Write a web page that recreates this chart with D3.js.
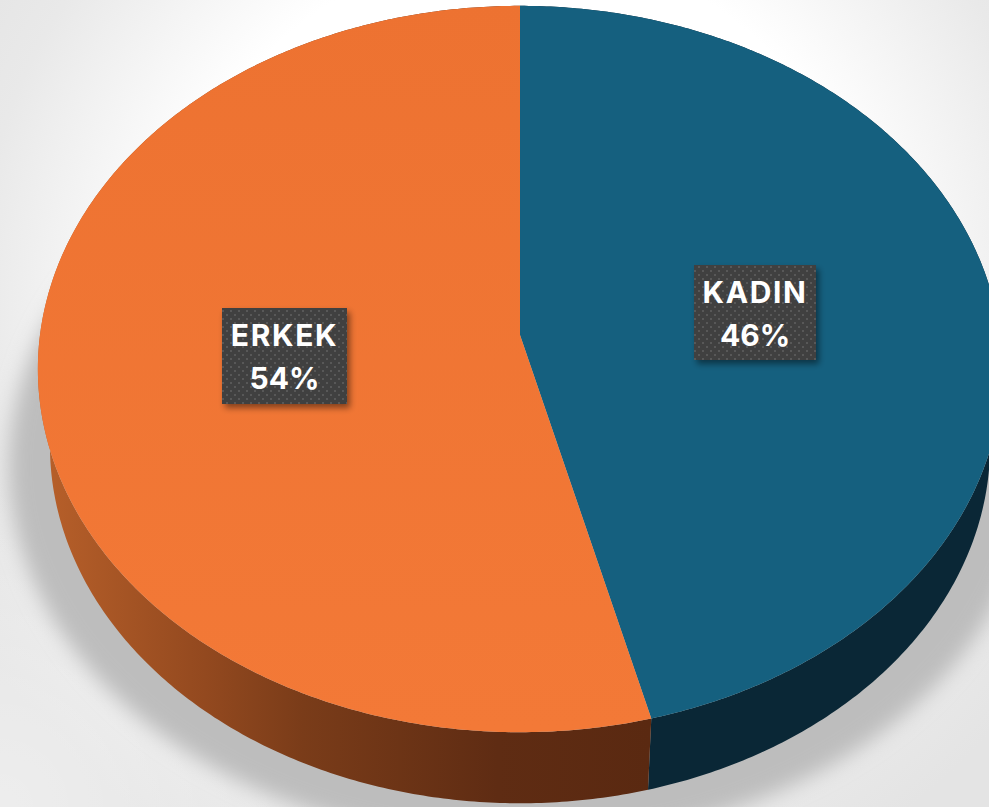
<!DOCTYPE html>
<html>
<head>
<meta charset="utf-8">
<script src="https://cdn.jsdelivr.net/npm/d3@7"></script>
<style>
  html, body { margin: 0; padding: 0; background: #f2f2f2; overflow: hidden; }
  svg { display: block; }
  text { font-family: Inter, "Liberation Sans", sans-serif; font-weight: 700; fill: #fff; }
</style>
</head>
<body>
<svg id="chart" width="989" height="807"></svg>
<script>
const categories = ['KADIN', 'ERKEK'];
const shares = [46, 54];

const svg = d3.select('#chart');
const defs = svg.append('defs');

const apexX = 520, apexY = 335, radiusX = 480, radiusY = 360, tilt = 0.0937;

// unit circle angle -> screen, tilted so the near edge looks bigger
function project(angle, shift, scaleX, scaleY) {
  const X = Math.sin(angle), Y = -Math.cos(angle), w = 1 - tilt * Y;
  return [apexX + scaleX * radiusX * X / w, apexY + shift + scaleY * radiusY * Y / w];
}

const arcs = d3.pie().value(d => d).sort(null)(shares);
const line = d3.line();
const steps = a => d3.range(a.startAngle, a.endAngle, 0.01).concat(a.endAngle);

function gradient(id, type, attrs, stops) {
  const g = defs.append(type).attr('id', id).attr('gradientUnits', 'userSpaceOnUse');
  Object.keys(attrs).forEach(k => g.attr(k, attrs[k]));
  stops.forEach(s => g.append('stop').attr('offset', s[0]).attr('stop-color', s[1]).attr('stop-opacity', s[2] === undefined ? 1 : s[2]));
}

// background
gradient('bg', 'radialGradient', {cx: 520, cy: 300, r: 640}, [[0.55, '#ffffff'], [0.85, '#e9e9e9'], [1, '#e4e4e4']]);
gradient('bgLeft', 'radialGradient', {cx: 0, cy: 807, r: 330}, [[0, '#ffffff', 0.35], [1, '#ffffff', 0]]);
svg.append('rect').attr('width', 989).attr('height', 807).attr('fill', 'url(#bg)');
svg.append('rect').attr('width', 989).attr('height', 807).attr('fill', 'url(#bgLeft)');

// soft shadow behind the pie
defs.append('filter').attr('id', 'soft').attr('x', '-20%').attr('y', '-20%').attr('width', '140%').attr('height', '140%')
  .append('feGaussianBlur').attr('stdDeviation', 10);
const shadowPts = d3.range(0, Math.PI * 2, 0.02).map(a => project(a, 95, 1.06, 1.04));
svg.append('path').attr('d', line(shadowPts) + 'Z').attr('fill', '#bdbdbd').attr('filter', 'url(#soft)');

// side wall
gradient('sideOrange', 'linearGradient', {x1: 40, x2: 650, y1: 0, y2: 0},
  [[0, '#b8602a'], [0.27, '#93491f'], [0.43, '#7a3c19'], [0.75, '#5f2c13'], [1, '#5a2911']]);
const sideFill = ['#0a2736', 'url(#sideOrange)'];

arcs.forEach((a, i) => {
  const top = steps(a).map(t => project(t, 0, 1, 1));
  const bottom = steps(a).map(t => project(t, 77, 0.975, 0.985)).reverse();
  svg.append('path').attr('d', line(top.concat(bottom)) + 'Z').attr('fill', sideFill[i]);
});

// top face
gradient('topOrange', 'linearGradient', {x1: 0, x2: 0, y1: 0, y2: 730}, [[0, '#ed7231'], [1, '#f37937']]);
const topFill = ['#15607f', 'url(#topOrange)'];
arcs.forEach((a, i) => {
  const pts = [[apexX, apexY]].concat(steps(a).map(t => project(t, 0, 1, 1)));
  svg.append('path').attr('d', line(pts) + 'Z').attr('fill', topFill[i]);
});

// labels
const dots = defs.append('pattern').attr('id', 'dots').attr('patternUnits', 'userSpaceOnUse')
  .attr('width', 8).attr('height', 8);
dots.append('rect').attr('width', 8).attr('height', 8).attr('fill', '#404040');
dots.append('rect').attr('x', 2).attr('y', 2).attr('width', 2).attr('height', 2).attr('fill', '#595959');
dots.append('rect').attr('x', 6).attr('y', 6).attr('width', 2).attr('height', 2).attr('fill', '#595959');
const boxShadow = defs.append('filter').attr('id', 'boxShadow').attr('x', '-20%').attr('y', '-20%').attr('width', '140%').attr('height', '140%');
boxShadow.append('feDropShadow').attr('dx', 3).attr('dy', 4).attr('stdDeviation', 3).attr('flood-color', '#000').attr('flood-opacity', 0.45);

const boxes = [[694, 265, 122, 95], [222, 308, 125, 96]];
categories.forEach((c, i) => {
  const [bx, by, bw, bh] = boxes[i];
  svg.append('rect').attr('x', bx).attr('y', by).attr('width', bw).attr('height', bh)
    .attr('fill', 'url(#dots)').attr('filter', 'url(#boxShadow)');
  svg.append('text').attr('x', bx + bw / 2).attr('y', by + 38).attr('text-anchor', 'middle')
    .attr('font-size', 30).attr('letter-spacing', 1.6).text(c);
  svg.append('text').attr('x', bx + bw / 2).attr('y', by + 81).attr('text-anchor', 'middle')
    .attr('font-size', 30).text(shares[i] + '%');
});
</script>
</body>
</html>
